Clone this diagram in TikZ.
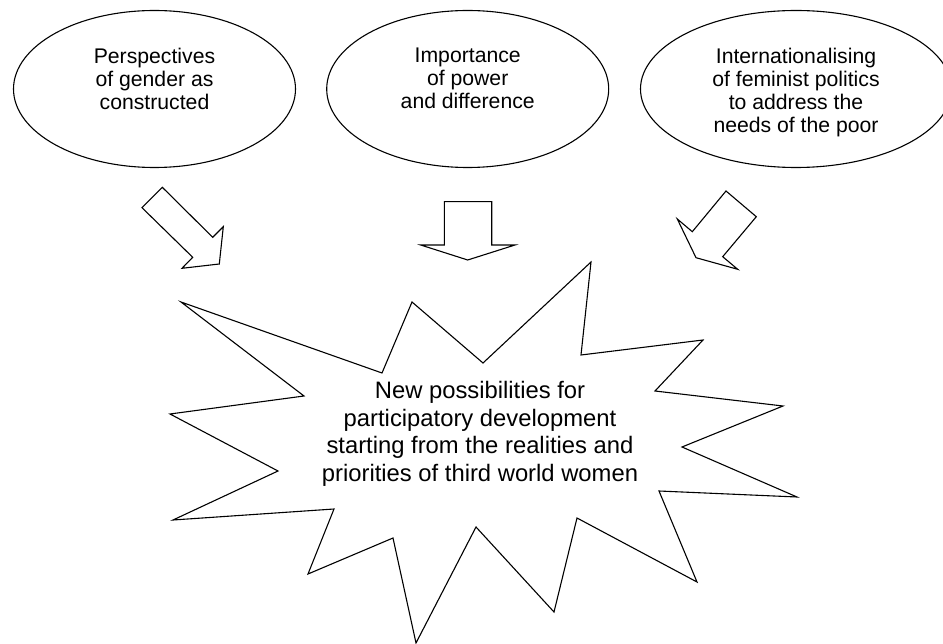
\documentclass[tikz,border=0pt]{standalone}
\usepackage{fontspec}
\setmainfont{Liberation Sans}
\usetikzlibrary{shapes.geometric, positioning}

\begin{document}
\begin{tikzpicture}[x=1pt, y=-1pt,
      bubble/.style={draw, ellipse, line width=1.1pt, minimum width=282pt, minimum height=157pt},
      bubbletext/.style={font=\fontsize{21.2}{23.3}\selectfont, align=center, inner sep=0pt},
      blockarrow/.style={draw, line width=1.1pt, line join=miter},
      burst/.style={draw, line width=1.1pt, line join=miter},
      bursttext/.style={font=\fontsize{23.8}{27.5}\selectfont, align=center, inner sep=0pt}]

      % Fix the page
      \clip (0,0) rectangle (943,644);

      % The three ellipses
      \node[bubble] (gender) at (154.5,89) {};
      \node[bubble] (power) at (467.7,89) {};
      \node[bubble, minimum width=311pt] (politics) at (796,89) {};

      \node[bubbletext, below=37.5pt of gender.north] (gendertext) {Perspectives\\of gender as\\constructed};
      \node[bubbletext, below=37.5pt of power.north] (powertext) {Importance\\of power\\and difference};
      \node[bubbletext, below=37.5pt of politics.north] (politicstext) {Internationalising\\of feminist politics\\to address the\\needs of the poor};

      % Block arrows pointing down to the burst
      \draw[blockarrow] (162.3,187.3) -- (142,207.7) -- (192.7,257.3) -- (182,268.3)
            -- (219.3,264) -- (223.3,226.7) -- (212.7,237.3) -- cycle;
      \draw[blockarrow] (444.3,201.7) -- (491.7,201.7) -- (491.7,245) -- (515,245)
            -- (467.7,260) -- (420.7,245) -- (444.3,245) -- cycle;
      \draw[blockarrow] (726,191) -- (756.3,216.7) -- (722.7,256.7) -- (737.7,269.3)
            -- (696,257.7) -- (677.3,219) -- (692.3,231.7) -- cycle;

      % The burst: outer and inner points in turn
      \draw[burst] (181,302) -- (382,373) -- (412,302) -- (483,363) -- (591,262) -- (581,355)
            -- (703,340) -- (655,391) -- (783,406) -- (682,447) -- (797,497) -- (659,491)
            -- (697,582) -- (577,518) -- (554,612) -- (476,527) -- (416,643) -- (393,538)
            -- (308,574) -- (334,509) -- (173,520) -- (278,471) -- (170,414) -- (304,396) -- cycle;

      \node[bursttext, anchor=north] (burst) at (480,381.5)
            {New possibilities for\\participatory development\\starting from the realities and\\priorities of third world women};
   \end{tikzpicture}
\end{document}
